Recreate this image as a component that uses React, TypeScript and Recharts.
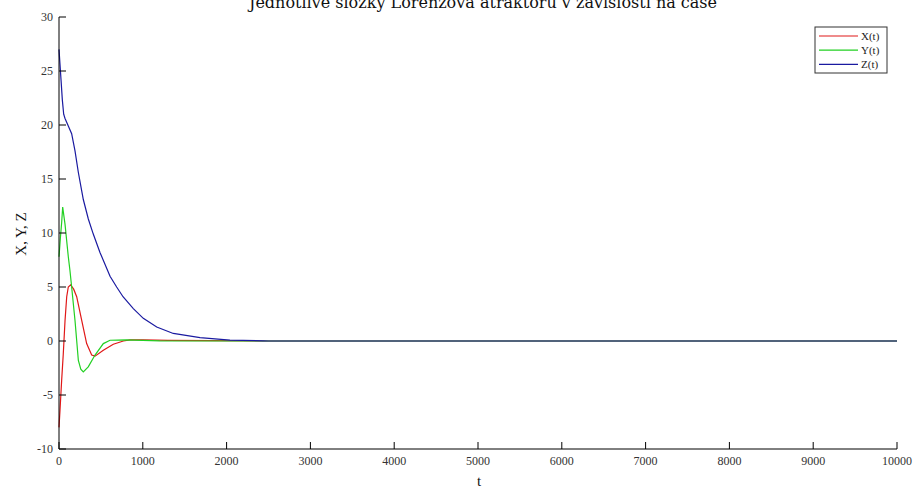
import { LineChart, Line, XAxis, YAxis } from 'recharts';

// time samples and values
const tX = [0, 12, 32, 51, 72, 92, 111, 139, 175, 211, 271, 330, 390, 430, 529, 648, 768, 847, 1000, 1300, 2500, 10000];
const xVals = [-8, -6.4, -3.6, -1.2, 1.9, 4.1, 5.0, 5.2, 4.8, 4.1, 1.9, -0.24, -1.3, -1.4, -0.85, -0.3, 0.0, 0.1, 0.1, 0.05, 0, 0];

const tY = [0, 16, 32, 44, 72, 111, 131, 151, 191, 231, 260, 290, 349, 430, 529, 609, 800, 1200, 2400, 10000];
const yVals = [7.8, 9.5, 11.0, 12.4, 10.8, 7.8, 6.5, 5.0, 1.9, -1.8, -2.6, -2.86, -2.4, -1.3, -0.24, 0.07, 0.1, 0.02, 0, 0];

const tZ = [0, 12, 24, 40, 56, 72, 111, 151, 191, 231, 271, 290, 350, 409, 489, 609, 688, 764, 887, 1006, 1166, 1364, 1683, 2040, 2434, 2500, 10000];
const zVals = [27, 25.6, 24.2, 22.3, 21.0, 20.6, 19.9, 19.2, 17.6, 15.6, 13.9, 13.1, 11.3, 9.9, 8.2, 6.0, 5.0, 4.1, 3.0, 2.1, 1.3, 0.7, 0.32, 0.08, 0.02, 0, 0];

const xTicks = [0, 1000, 2000, 3000, 4000, 5000, 6000, 7000, 8000, 9000, 10000];
const yTicks = [-10, -5, 0, 5, 10, 15, 20, 25, 30];

const toPoints = (ts: number[], vs: number[]) => ts.map((t, i) => ({ t, v: vs[i] }));

const seriesList = [
  { name: 'X(t)', color: '#e01818', data: toPoints(tX, xVals) },
  { name: 'Y(t)', color: '#22d022', data: toPoints(tY, yVals) },
  { name: 'Z(t)', color: '#1a1aa0', data: toPoints(tZ, zVals) },
];

const font = '"Liberation Serif", "DejaVu Serif", serif';

export default function App() {
  return (
    <div style={{ position: 'absolute', left: 0, top: 0, width: 917, height: 490, fontFamily: font, background: '#fff' }}>
      <LineChart width={917} height={490} margin={{ top: 17, right: 20, bottom: 0, left: 0 }}>
        <XAxis
          dataKey="t"
          type="number"
          domain={[0, 10000]}
          ticks={xTicks}
          allowDuplicatedCategory={false}
          height={41}
          stroke="#000"
          tickSize={-7}
          tickMargin={14}
          tick={{ fill: '#333', fontSize: 12 }}
        />
        <YAxis
          type="number"
          domain={[-10, 30]}
          ticks={yTicks}
          width={59}
          stroke="#000"
          tickSize={-7}
          tickMargin={13}
          tick={{ fill: '#333', fontSize: 12 }}
        />
        {seriesList.map((s) => (
          <Line
            key={s.name}
            data={s.data}
            dataKey="v"
            name={s.name}
            stroke={s.color}
            strokeWidth={1.2}
            dot={false}
            type="linear"
            isAnimationActive={false}
          />
        ))}
      </LineChart>
      <svg width={917} height={490} style={{ position: 'absolute', left: 0, top: 0, pointerEvents: 'none' }}>
        <text x={483} y={7.5} textAnchor="middle" fontSize={16} fontFamily='"DejaVu Serif", serif' fill="#111">
          Jednotlivé složky Lorenzova atraktoru v závislosti na čase
        </text>
        <text x={479} y={486} textAnchor="middle" fontSize={15} fill="#111">t</text>
        <text
          x={26}
          y={234}
          textAnchor="middle"
          fontSize={15}
          fill="#111"
          transform="rotate(-90 26 234)"
        >
          X, Y, Z
        </text>
        <rect x={815} y={27} width={72} height={46} fill="#fff" stroke="#333" strokeWidth={1} />
        {seriesList.map((s, i) => (
          <g key={s.name}>
            <line x1={819} x2={858} y1={36 + i * 14.2} y2={36 + i * 14.2} stroke={s.color} strokeWidth={1.2} />
            <text x={861} y={36 + i * 14.2 + 4} fontSize={11} fill="#222">
              {s.name}
            </text>
          </g>
        ))}
      </svg>
    </div>
  );
}
